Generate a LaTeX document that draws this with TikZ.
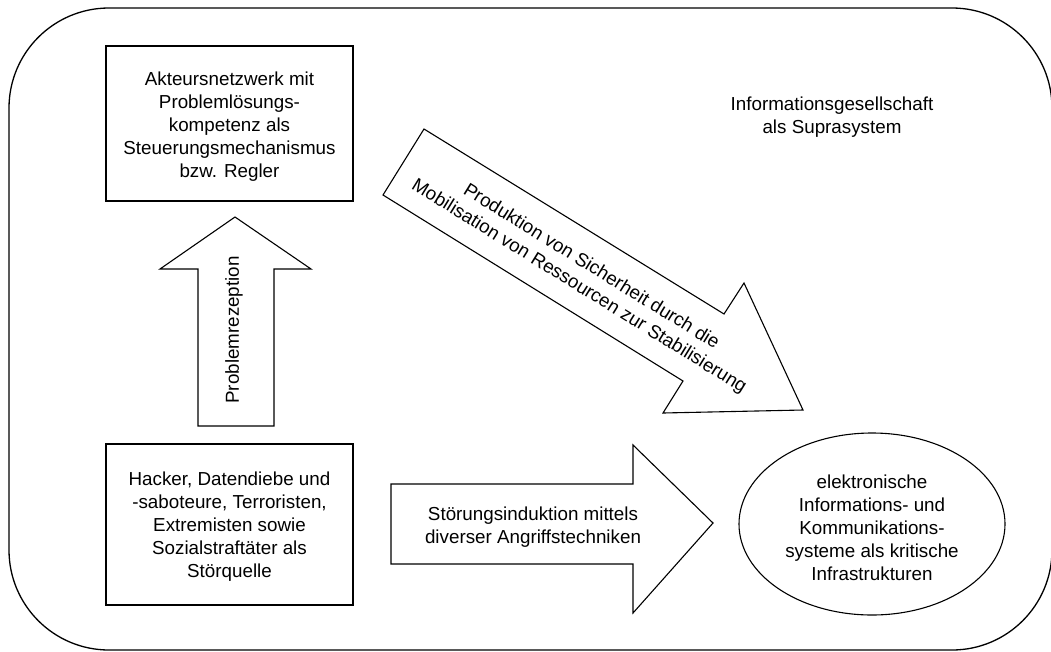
\documentclass[tikz,border=0pt]{standalone}
\usepackage{fontspec}
\setmainfont{Liberation Sans}
\usetikzlibrary{shapes.geometric}
\begin{document}
\begin{tikzpicture}[x=1pt,y=-1pt,
  line join=miter,
  blockarrow/.style={draw=black,line width=1.1pt,fill=white},
  txt/.style={inner sep=0pt,align=center,font=\fontsize{18.8}{23}\selectfont},
  boxnode/.style={draw=black,line width=1.1pt,inner sep=0pt,minimum width=247pt}]
\useasboundingbox (0,0) rectangle (1051,651);

% supersystem frame
\draw[line width=1.3pt,rounded corners=100pt] (9,8) rectangle (1052,650);
\node[txt] (supra) at (832,117) {Informationsgesellschaft\\als Suprasystem};

% controller
\node[boxnode,minimum height=155pt] (regler) at (229.5,123.5) {};
\node[txt] (reglertext) at (229.5,127)
  {Akteursnetzwerk mit\\Problemlösungs-\\kompetenz als\\Steuerungsmechanismus\\bzw. Regler};

% disturbance source
\node[boxnode,minimum height=161pt] (quelle) at (229.5,524.5) {};
\node[txt] (quelletext) at (229.5,527)
  {Hacker, Datendiebe und\\-saboteure, Terroristen,\\Extremisten sowie\\Sozialstraftäter als\\Störquelle};

% critical infrastructure
\node[draw=black,line width=1.1pt,ellipse,minimum width=266pt,minimum height=182pt,inner sep=0pt] (infra) at (872,524) {};
\node[txt] (infratext) at (872,528) {elektronische\\Informations- und\\Kommunikations-\\systeme als kritische\\Infrastrukturen};

% block arrow: problem reception
\draw[blockarrow] (198,426) -- (198,269) -- (160,269) -- (235,217) -- (311,269) -- (274,269) -- (274,426) -- cycle;
\node[txt,rotate=90] (rezeption) at (234,330) {Problemrezeption};

% block arrow: disturbance induction
\draw[blockarrow] (391,484) -- (633,484) -- (633,445) -- (713,523) -- (633,613) -- (633,564) -- (391,564) -- cycle;
\node[txt] (stoerung) at (533,527) {Störungsinduktion mittels\\diverser Angriffstechniken};

% block arrow: production of security
\draw[blockarrow] (424,129) -- (724,314) -- (744,283) -- (803,410) -- (663,413) -- (683,381) -- (383,195) -- cycle;
\node[txt,rotate=-31.73] (sicherheit) at (585,277)
  {Produktion von Sicherheit durch die\\Mobilisation von Ressourcen zur Stabilisierung};
\end{tikzpicture}
\end{document}
